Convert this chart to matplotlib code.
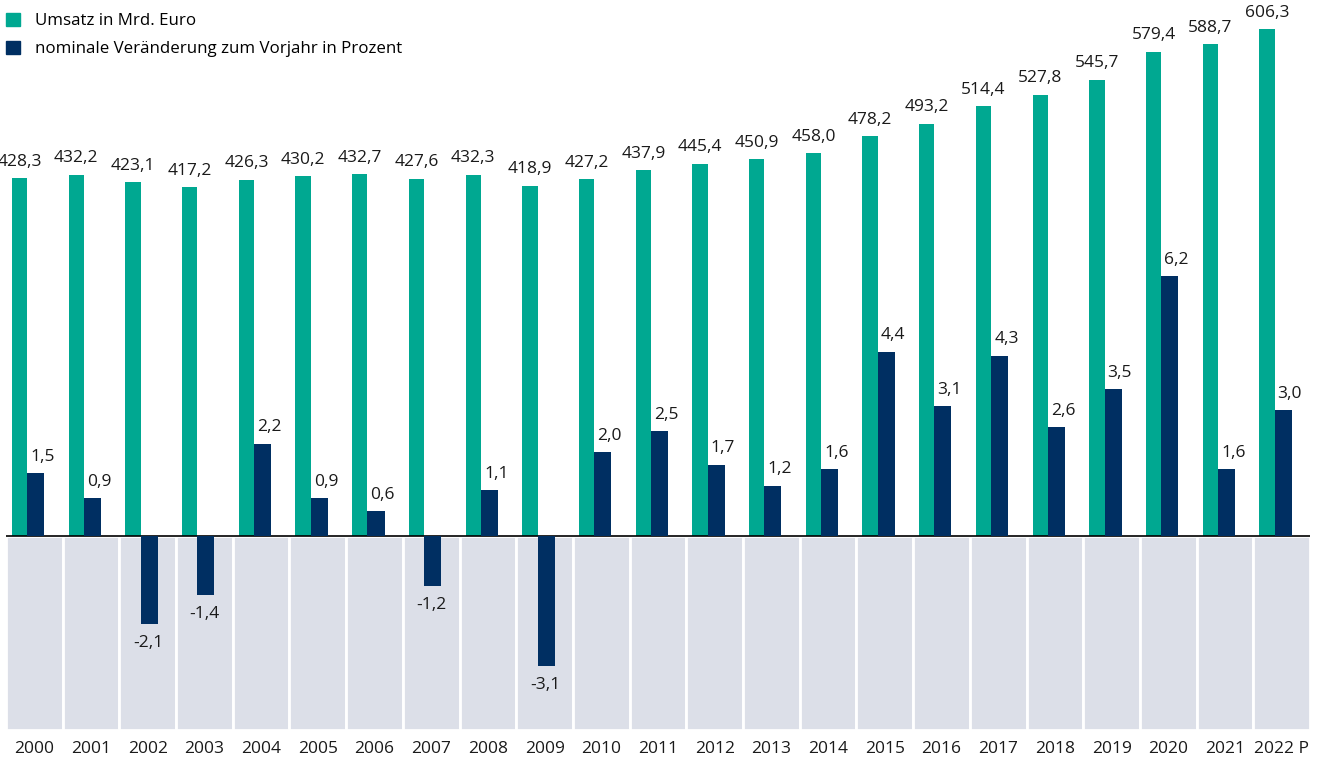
import numpy as np
import matplotlib
matplotlib.use("Agg")
import matplotlib.pyplot as plt
from matplotlib.patches import Patch

plt.rcParams['font.family'] = ['Open Sans', 'DejaVu Sans']

# data
years = ['2000', '2001', '2002', '2003', '2004', '2005', '2006', '2007', '2008', '2009',
         '2010', '2011', '2012', '2013', '2014', '2015', '2016', '2017', '2018', '2019',
         '2020', '2021', '2022 P']
umsatz = [428.3, 432.2, 423.1, 417.2, 426.3, 430.2, 432.7, 427.6, 432.3, 418.9, 427.2,
          437.9, 445.4, 450.9, 458.0, 478.2, 493.2, 514.4, 527.8, 545.7, 579.4, 588.7, 606.3]
veraenderung = [1.5, 0.9, -2.1, -1.4, 2.2, 0.9, 0.6, -1.2, 1.1, -3.1, 2.0, 2.5, 1.7, 1.2,
                1.6, 4.4, 3.1, 4.3, 2.6, 3.5, 6.2, 1.6, 3.0]

green = '#00a891'
navy = '#002f62'
grey = '#dcdfe8'
fs = 12.5

def fmt(v):
    return f"{v:.1f}".replace('.', ',')

W, H = 1328, 760
fig = plt.figure(figsize=(W / 100, H / 100), dpi=100)

# axes: zero line at pixel 536, grey area ends at 730
left, right = 6 / W, 1310 / W
bottom, top = (H - 730) / H, 1.0
ax = fig.add_axes([left, bottom, right - left, top - bottom])
ax2 = ax.twinx()

x = np.arange(len(years))
zero_px = 536
px_green = 0.836   # px per Mrd. Euro
px_navy = 41.9     # px per percent point
ax.set_ylim(-(730 - zero_px) / px_green, zero_px / px_green)
ax2.set_ylim(-(730 - zero_px) / px_navy, zero_px / px_navy)
ax.set_xlim(-0.5, len(years) - 0.5)

# grey cells below zero
ax.bar(x, ax.get_ylim()[0], width=1.0, color=grey, edgecolor='white', linewidth=2, zorder=0)

gw, nw = 0.27, 0.30
gx = x - 0.394 + gw / 2
nx = x - 0.394 + gw + nw / 2
ax.bar(gx, umsatz, width=gw, color=green, zorder=2)
ax2.bar(nx, veraenderung, width=nw, color=navy, zorder=2)
ax.axhline(0, color='black', lw=1.2, zorder=3)

for xi, v in zip(gx, umsatz):
    ax.annotate(fmt(v), (xi, v), xytext=(0, 6), textcoords='offset points',
                ha='center', va='bottom', fontsize=fs, color='#1a1a1a')
for xi, v in zip(nx, veraenderung):
    if v >= 0:
        ax2.annotate(fmt(v), (xi + 0.12, v), xytext=(0, 6), textcoords='offset points',
                     ha='center', va='bottom', fontsize=fs, color='#1a1a1a')
    else:
        ax2.annotate(fmt(v), (xi - 0.02, v), xytext=(0, -8), textcoords='offset points',
                     ha='center', va='top', fontsize=fs, color='#1a1a1a')

ax.set_xticks(x)
ax.set_xticklabels(years, fontsize=fs, color='#1a1a1a')
ax.tick_params(axis='x', length=0, pad=8)
ax.set_yticks([])
ax2.set_yticks([])
for a in (ax, ax2):
    for s in a.spines.values():
        s.set_visible(False)

handles = [Patch(color=green), Patch(color=navy)]
fig.legend(handles, ['Umsatz in Mrd. Euro', 'nominale Veränderung zum Vorjahr in Prozent'],
           loc='upper left', bbox_to_anchor=(6 / W, 1 - 13 / H), frameon=False,
           fontsize=12.2, handlelength=0.82, handleheight=0.77, handletextpad=0.9,
           labelspacing=0.7, borderaxespad=0, borderpad=0)

fig.savefig('out.png', dpi=100)
